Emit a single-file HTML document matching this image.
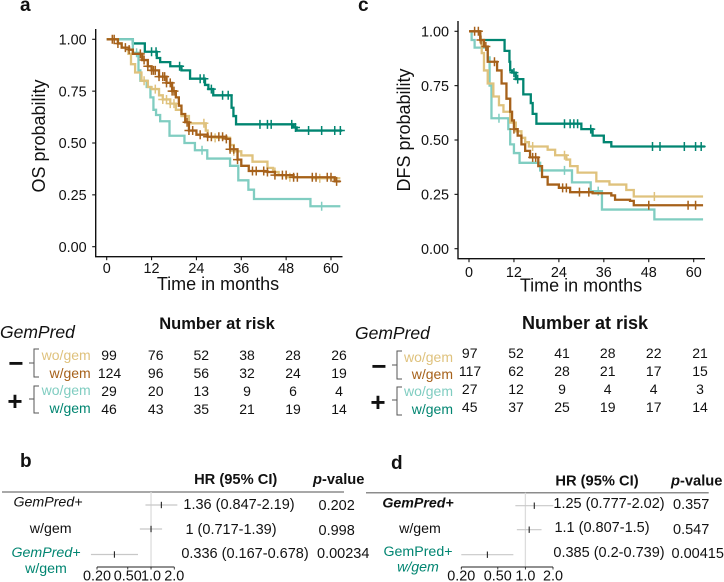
<!DOCTYPE html>
<html lang="en">
<head>
<meta charset="utf-8">
<title>GemPred survival analysis</title>
<style>
html,body{margin:0;padding:0;background:#fff;}
svg{display:block;font-family:"Liberation Sans",Arial,sans-serif;}
text{fill:#111;}
.tan{fill:#dfc27d;}.brown{fill:#a6611a;}.lt{fill:#80cdc1;}.dk{fill:#018571;}
</style>
</head>
<body>
<svg id="fig" width="724" height="582" viewBox="0 0 724 582" xmlns="http://www.w3.org/2000/svg">
<rect width="724" height="582" fill="#fff"/>
<g font-weight="bold" font-size="19">
<text x="20" y="11">a</text>
<text x="358" y="11">c</text>
<text x="20" y="467">b</text>
<text x="391" y="469">d</text>
</g>
<g id="panelA"></g>
<g id="panelC"></g>

<!-- risk table a -->
<g>
<text x="217" y="329" text-anchor="middle" font-weight="bold" font-size="16.5">Number at risk</text>
<text x="0" y="338" font-style="italic" font-size="17.5">GemPred</text>
<path d="M39 349H34V377H39M34 363H29M39 386H34V413H39M34 399H29" fill="none" stroke="#555" stroke-width="1"/>
<text x="16" y="372" text-anchor="middle" font-weight="bold" font-size="26">−</text>
<text x="15" y="410" text-anchor="middle" font-weight="bold" font-size="26">+</text>
<g font-size="14" text-anchor="end">
<text class="tan" x="90.7" y="360">wo/gem</text>
<text class="brown" x="90.7" y="378">w/gem</text>
<text class="lt" x="90.7" y="395">wo/gem</text>
<text class="dk" x="90.7" y="413">w/gem</text>
</g>
<g font-size="14" text-anchor="middle">
<text x="109" y="360">99</text><text x="155.7" y="360">76</text><text x="201.3" y="360">52</text><text x="247" y="360">38</text><text x="293" y="360">28</text><text x="339" y="360">26</text>
<text x="109.5" y="378">124</text><text x="155.7" y="378">96</text><text x="201.3" y="378">56</text><text x="247" y="378">32</text><text x="293" y="378">24</text><text x="339" y="378">19</text>
<text x="109" y="396">29</text><text x="155.7" y="396">20</text><text x="201.3" y="396">13</text><text x="247" y="396">9</text><text x="293" y="396">6</text><text x="339" y="396">4</text>
<text x="109" y="414">46</text><text x="155.7" y="414">43</text><text x="201.3" y="414">35</text><text x="247" y="414">21</text><text x="293" y="414">19</text><text x="339" y="414">14</text>
</g>
</g>

<!-- risk table c -->
<g>
<text x="585" y="329" text-anchor="middle" font-weight="bold" font-size="18">Number at risk</text>
<text x="355" y="339" font-style="italic" font-size="17.5">GemPred</text>
<path d="M402 351H397V379H402M397 365H392M402 387H397V415H402M397 400H392" fill="none" stroke="#555" stroke-width="1"/>
<text x="379" y="375" text-anchor="middle" font-weight="bold" font-size="26">−</text>
<text x="378" y="411" text-anchor="middle" font-weight="bold" font-size="26">+</text>
<g font-size="14" text-anchor="end">
<text class="tan" x="453" y="362">wo/gem</text>
<text class="brown" x="453" y="379">w/gem</text>
<text class="lt" x="453" y="396">wo/gem</text>
<text class="dk" x="453" y="414">w/gem</text>
</g>
<g font-size="14" text-anchor="middle">
<text x="469.7" y="358">97</text><text x="516" y="358">52</text><text x="562" y="358">41</text><text x="607.7" y="358">28</text><text x="653.7" y="358">22</text><text x="700" y="358">21</text>
<text x="470" y="376">117</text><text x="516" y="376">62</text><text x="562" y="376">28</text><text x="607.7" y="376">21</text><text x="653.7" y="376">17</text><text x="700" y="376">15</text>
<text x="469.7" y="394">27</text><text x="516" y="394">12</text><text x="562" y="394">9</text><text x="607.7" y="394">4</text><text x="653.7" y="394">4</text><text x="700" y="394">3</text>
<text x="469.7" y="412">45</text><text x="516" y="412">37</text><text x="562" y="412">25</text><text x="607.7" y="412">19</text><text x="653.7" y="412">17</text><text x="700" y="412">14</text>
</g>
</g>

<!-- forest b -->
<g>
<text x="235.7" y="484" text-anchor="middle" font-weight="bold" font-size="14.7">HR (95% CI)</text>
<text x="313" y="484" font-weight="bold" font-size="14.7"><tspan font-style="italic">p</tspan>-value</text>
<g font-size="14.2" text-anchor="middle">
<text x="48" y="506.5" font-style="italic">GemPred+</text>
<text x="50.7" y="533">w/gem</text>
<text class="dk" x="46" y="557" font-style="italic">GemPred+</text>
<text class="dk" x="46" y="573">w/gem</text>
</g>
<g font-size="14.5" text-anchor="middle">
<text x="239" y="509">1.36 (0.847-2.19)</text>
<text x="231" y="534">1 (0.717-1.39)</text>
<text x="245" y="558">0.336 (0.167-0.678)</text>
</g>
<g font-size="14.5">
<text x="318.5" y="510">0.202</text>
<text x="318.5" y="535">0.998</text>
<text x="317" y="558">0.00234</text>
</g>
</g>

<!-- forest d -->
<g>
<text x="597" y="485.5" text-anchor="middle" font-weight="bold" font-size="14.7">HR (95% CI)</text>
<text x="671" y="485.5" font-weight="bold" font-size="14.7"><tspan font-style="italic">p</tspan>-value</text>
<g font-size="14.2" text-anchor="middle">
<text x="418" y="507.5" font-style="italic" font-weight="bold">GemPred+</text>
<text x="420" y="533">w/gem</text>
<text class="dk" x="418" y="556">GemPred+</text>
<text class="dk" x="418" y="571.5" font-style="italic">w/gem</text>
</g>
<g font-size="14.5" text-anchor="middle">
<text x="609" y="508">1.25 (0.777-2.02)</text>
<text x="602" y="532">1.1 (0.807-1.5)</text>
<text x="609" y="557">0.385 (0.2-0.739)</text>
</g>
<g font-size="14.5">
<text x="673" y="509">0.357</text>
<text x="673" y="534">0.547</text>
<text x="671.5" y="558">0.00415</text>
</g>
</g>
<g id="forestB"></g>
<g id="forestD"></g>
</svg>

<script>
// ---- Shared tick labels ----
const xTickMonths = [0, 12, 24, 36, 48, 60];
const yTickValues = [0, 0.25, 0.5, 0.75, 1];

// ---- Panel a: OS (step times / survival / censor times) ----
const osDarkT = [0,7,10.2,13.4,14.3,17,20,22.3,26.3,27.2,28.5,33.4,33.9,34.6,50,50.8];
const osDarkS = [1,.98,.94,.91,.89,.87,.85,.81,.78,.76,.73,.67,.63,.59,.575,.56];
const osDarkC = [12,13.2,19.5,25,26,28,31,32.5,41,43,44,49.5,50.5,54,57.5,61,62.5];

const osLightT = [0,7,8.5,9,10.7,11.7,12.5,13.2,14.3,16.8,20.8,23.6,26.9,33,35.2,37.9,39.4,54.5];
const osLightS = [1,.935,.85,.8,.77,.72,.66,.635,.605,.535,.5,.465,.425,.39,.32,.275,.23,.195];
const osLightC = [8,25.5,57.5];

const osTanT = [0,3,4,5.8,6.5,7.6,9.3,11,12,14,15,17,18.5,20,22,26.5,27,29,33,34,36,39,43,44.5,46,48,55];
const osTanS = [1,.98,.96,.93,.88,.84,.8,.77,.76,.73,.71,.69,.66,.63,.595,.56,.53,.525,.49,.46,.44,.41,.38,.36,.345,.335,.33];
const osTanC = [10,13,15,16,17,18,26,29,34,45,49,57];

const osBrownT = [0,3,4,6,7,9.5,11,12,14,16,17.5,18.5,19.3,20,21,22,24,27,32,33,35,36,38,43,45,50,61];
const osBrownS = [1,.98,.96,.95,.93,.9,.87,.85,.82,.79,.75,.72,.68,.64,.6,.56,.54,.53,.52,.47,.42,.39,.365,.36,.345,.335,.315];
const osBrownC = [1.5,2,3,5,6,9,10,11,12,12.5,13,14,15,15.5,16,17,17.5,18,21.5,22,23,25,27,28,30,31,32,33,34,35,39,40,42,43,45,47,48,50,51,55,56,59,60,61.5];

// ---- Panel c: DFS ----
const dfsDarkT = [0,3,9.5,10.8,11,11.5,12.5,14.5,16.5,17,18,30,33,36,38];
const dfsDarkS = [1,.96,.91,.86,.82,.81,.78,.71,.67,.62,.575,.55,.52,.49,.47];
const dfsDarkC = [12,13,25.5,27,28,29,32.5,49,51,57.5,60.5,62];

const dfsLightT = [0,.7,1.5,5,5.5,6,10.5,11,12,13.5,14,19,27.5,32.5,35.5,49.5];
const dfsLightS = [1,.96,.925,.88,.75,.6,.55,.48,.44,.395,.395,.36,.305,.265,.18,.135];
const dfsLightC = [8,25.5,34.5];

const dfsTanT = [0,3,3.4,4,5,6.5,8,9.2,11,12.5,14,15,16,21,23,26,27,29,34,37.5,42,44];
const dfsTanS = [1,.95,.9,.82,.76,.7,.66,.63,.58,.54,.51,.49,.47,.455,.43,.41,.38,.35,.31,.295,.27,.24];
const dfsTanC = [17,25.5,49.5];

const dfsBrownT = [0,3,4,5,7.5,8.7,10,11,11.5,12,13,14,15,16.3,18.5,19.5,21,24,27,33,38,39,43,44];
const dfsBrownS = [1,.96,.93,.86,.82,.76,.69,.63,.59,.55,.52,.48,.45,.42,.38,.33,.295,.28,.26,.255,.245,.225,.22,.2];
const dfsBrownC = [1.5,2.5,3.2,4.5,6.8,12,17,17.8,25,26,29.5,32,48,58.5,60.5];

// ---- Forest plots ----
const forestTicks = [0.2, 0.5, 1, 2];
const forestTickLabels = ["0.20", "0.50", "1.0", "2.0"];
const osHr = [1.36, 1, 0.336];
const osLo = [0.847, 0.717, 0.167];
const osHi = [2.19, 1.39, 0.678];
const dfsHr = [1.25, 1.1, 0.385];
const dfsLo = [0.777, 0.807, 0.2];
const dfsHi = [2.02, 1.5, 0.739];

const NS = 'http://www.w3.org/2000/svg';
function mk(parent, tag, attrs, txt) {
  const el = document.createElementNS(NS, tag);
  for (const k in attrs) el.setAttribute(k, attrs[k]);
  if (txt !== undefined) el.textContent = txt;
  parent.appendChild(el);
  return el;
}
function stepAt(ts, ss, t) {
  let v = ss[0];
  for (let i = 0; i < ts.length; i++) if (ts[i] <= t) v = ss[i];
  return v;
}
function drawKM(host, g, series, yTitle) {
  const X = t => g.x0 + t * (g.x60 - g.x0) / 60;
  const Y = s => g.y0 + s * (g.y1 - g.y0);
  const axes = mk(host, 'path', {d:`M${g.ax} ${g.yTop}V${g.yBot}H${g.xEnd}`, fill:'none', stroke:'#111', 'stroke-width':1.4});
  
  
  yTickValues.forEach(v => {
    const tk = mk(host, 'line', {x1:g.ax-3.5, x2:g.ax, y1:Y(v), y2:Y(v), stroke:'#111', 'stroke-width':1.1});
    
    
    const lb = mk(host, 'text', {x:g.ax-9, y:Y(v)+5.2, 'text-anchor':'end', 'font-size':14.4}, v.toFixed(2));
    
    
  });
  xTickMonths.forEach(v => {
    const tk = mk(host, 'line', {x1:X(v), x2:X(v), y1:g.yBot, y2:g.yBot+3.5, stroke:'#111', 'stroke-width':1.1});
    
    
    const lb = mk(host, 'text', {x:X(v), y:g.xLabY, 'text-anchor':'middle', 'font-size':14.4}, String(v));
    
    
  });
  const xt = mk(host, 'text', {x:g.xtX, y:g.xtY, 'text-anchor':'middle', 'font-size':18}, 'Time in months');
  
  
  const yt = mk(host, 'text', {transform:`translate(${g.ytX} ${g.ytY}) rotate(-90)`, 'text-anchor':'middle', 'font-size':18}, yTitle);
  
  
  series.forEach(s => {
    let d = `M${X(s.t[0])} ${Y(s.s[0])}`;
    for (let i = 1; i < s.t.length; i++) d += `H${X(s.t[i])}V${Y(s.s[i])}`;
    d += `H${X(s.end)}`;
    const ln = mk(host, 'path', {d:d, fill:'none', stroke:s.c, 'stroke-width':2.3});
    
    
    s.cens.forEach(t => {
      const x = X(t), y = Y(stepAt(s.t, s.s, t));
      const cm = mk(host, 'path', {d:`M${x-4.5} ${y}H${x+4.5}M${x} ${y-4.5}V${y+4.5}`, fill:'none', stroke:s.c, 'stroke-width':1.5});
      
      
    });
  });
}
function drawForest(host, g, hr, lo, hi) {
  const X = v => g.x02 + (Math.log10(v) - Math.log10(0.2)) * (g.x2 - g.x02);
  const hl = mk(host, 'line', {x1:g.hx1, x2:g.hx2, y1:g.hy, y2:g.hy, stroke:'#8c8c8c', 'stroke-width':1.5});
  
  
  const ref = mk(host, 'line', {x1:X(1), x2:X(1), y1:g.hy, y2:g.ay, stroke:'#dcdcdc', 'stroke-width':1.3});
  
  
  hr.forEach((v, i) => {
    const ci = mk(host, 'line', {x1:X(lo[i]), x2:X(hi[i]), y1:g.rows[i], y2:g.rows[i], stroke:'#c8c8c8', 'stroke-width':1.2});
    
    
    const pt = mk(host, 'line', {x1:X(v), x2:X(v), y1:g.rows[i]-3.2, y2:g.rows[i]+3.2, stroke:'#222', 'stroke-width':1.1});
    
    
  });
  const ax = mk(host, 'line', {x1:X(forestTicks[0]), x2:X(forestTicks[forestTicks.length-1]), y1:g.ay, y2:g.ay, stroke:'#222', 'stroke-width':1});
  
  
  forestTicks.forEach((v, i) => {
    const tk = mk(host, 'line', {x1:X(v), x2:X(v), y1:g.ay, y2:g.ay+2.5, stroke:'#222', 'stroke-width':.9});
    
    
    const lb = mk(host, 'text', {x:X(v), y:g.ay+13.5, 'text-anchor':'middle', 'font-size':14.4}, forestTickLabels[i]);
    
    
  });
}
const TAN='#dfc27d', BROWN='#a6611a', LIGHT='#80cdc1', DARK='#018571';
drawKM(document.getElementById('panelA'),
  {x0:106.7,x60:331,y1:39.3,y0:246.7,ax:95.7,yTop:29,yBot:256.7,xEnd:342.5,xLabY:273,xtX:218,xtY:290,ytX:45,ytY:136},
  [{n:'plus-w-gem',t:osDarkT,s:osDarkS,cens:osDarkC,c:DARK,end:63},
   {n:'plus-wo-gem',t:osLightT,s:osLightS,cens:osLightC,c:LIGHT,end:62.5},
   {n:'minus-wo-gem',t:osTanT,s:osTanS,cens:osTanC,c:TAN,end:62.5},
   {n:'minus-w-gem',t:osBrownT,s:osBrownS,cens:osBrownC,c:BROWN,end:62.5}], 'OS probability');
drawKM(document.getElementById('panelC'),
  {x0:469,x60:693.7,y1:31.3,y0:248.7,ax:458,yTop:21,yBot:258.7,xEnd:705,xLabY:277,xtX:581,xtY:291.7,ytX:410,ytY:130},
  [{n:'plus-w-gem',t:dfsDarkT,s:dfsDarkS,cens:dfsDarkC,c:DARK,end:63},
   {n:'plus-wo-gem',t:dfsLightT,s:dfsLightS,cens:dfsLightC,c:LIGHT,end:62.5},
   {n:'minus-wo-gem',t:dfsTanT,s:dfsTanS,cens:dfsTanC,c:TAN,end:62.5},
   {n:'minus-w-gem',t:dfsBrownT,s:dfsBrownS,cens:dfsBrownC,c:BROWN,end:62.5}], 'DFS probability');
drawForest(document.getElementById('forestB'),
  {x02:97,x2:174.3,hx1:2,hx2:344,hy:492,ay:567,rows:[505,529,554.5]}, osHr, osLo, osHi);
drawForest(document.getElementById('forestD'),
  {x02:461.3,x2:553,hx1:366,hx2:708.7,hy:492.7,ay:567,rows:[505.7,529.7,554.7]}, dfsHr, dfsLo, dfsHi);
</script>
</body>
</html>
